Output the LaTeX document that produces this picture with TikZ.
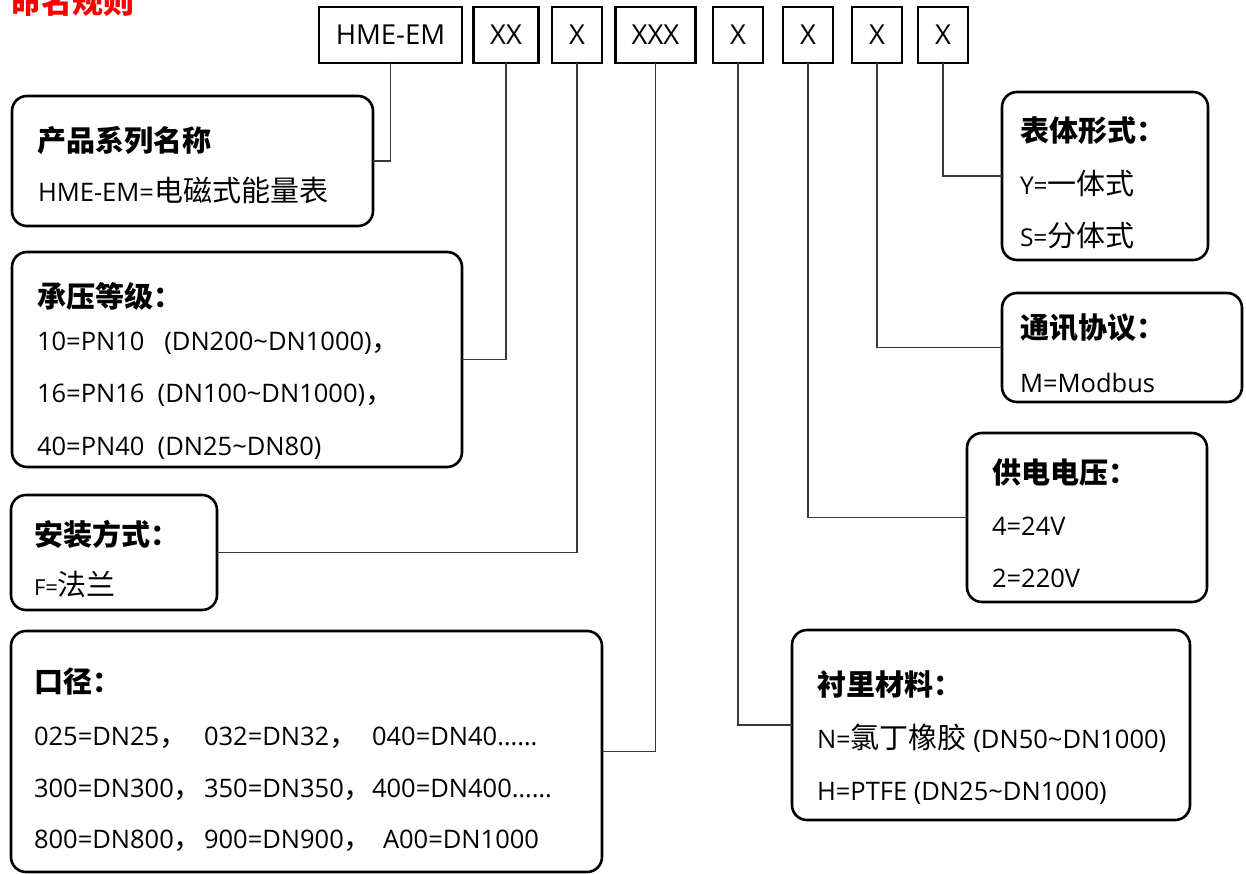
\documentclass[tikz,border=0pt]{standalone}
\usepackage{fontspec}
\setmainfont{Open Sans}
\newfontfamily\cjk{Noto Sans CJK SC}
\newcommand\zh[1]{{\cjk\fontsize{29}{34}\selectfont #1}}
\newcommand\zhb[1]{{\cjk\bfseries\fontsize{29}{34}\selectfont #1}}
\newcommand\sm[2]{{\fontsize{#1}{#1}\selectfont #2}}
\begin{document}
\begin{tikzpicture}[x=1pt,y=-1pt,
  rbox/.style={draw=black, line width=2.6pt, rounded corners=15pt, inner sep=0pt, outer sep=0pt, anchor=north west},
  tbox/.style={draw=black, line width=2.8pt, inner sep=0pt, outer sep=0pt, minimum height=56pt, font=\fontsize{27.5}{32}\selectfont},
  conn/.style={draw=black!78, line width=1.5pt},
  txt/.style={anchor=base west, inner sep=0pt, outer sep=0pt, font=\fontsize{25.5}{30}\selectfont}]
\useasboundingbox (0,0) rectangle (1246,874);

% title (partly cut off at the top edge, as in the reference)
\node[anchor=base west, inner sep=0pt, text={rgb,255:red,255;green,0;blue,0}, font=\cjk\bfseries\fontsize{31}{36}\selectfont] (title) at (10,13.5) {命名规则};

% code boxes
\node[tbox, minimum width=143pt] (t1) at (390.5,35) {HME-EM};
\node[tbox, minimum width=65pt] (t2) at (506,35) {XX};
\node[tbox, minimum width=50pt] (t3) at (577,35) {X};
\node[tbox, minimum width=80pt] (t4) at (655.5,35) {XXX};
\node[tbox, minimum width=50pt] (t5) at (738,35) {X};
\node[tbox, minimum width=50pt] (t6) at (808,35) {X};
\node[tbox, minimum width=50pt] (t7) at (877,35) {X};
\node[tbox, minimum width=50pt] (t8) at (943,35) {X};

% description boxes
\node[rbox, minimum width=361pt, minimum height=130pt] (b1) at (12,96) {};
\node[rbox, minimum width=450pt, minimum height=215pt] (b2) at (12,252) {};
\node[rbox, minimum width=206pt, minimum height=115pt] (b3) at (11,495) {};
\node[rbox, minimum width=591pt, minimum height=241pt] (b4) at (11,631) {};
\node[rbox, minimum width=206pt, minimum height=168pt] (b5) at (1002,92) {};
\node[rbox, minimum width=240pt, minimum height=109pt] (b6) at (1002,293) {};
\node[rbox, minimum width=240pt, minimum height=169pt] (b7) at (967,433) {};
\node[rbox, minimum width=398pt, minimum height=190pt] (b8) at (792,630) {};

% connectors
\draw[conn] (t1.south) |- (b1.east);
\draw[conn] (t2.south) |- (b2.east);
\draw[conn] (t3.south) |- (b3.east);
\draw[conn] (t4.south) |- (b4.east);
\draw[conn] (t5.south) |- (b8.west);
\draw[conn] (t6.south) |- (b7.west);
\draw[conn] (t7.south) |- (b6.west);
\draw[conn] (t8.south) |- (b5.west);

% texts: product series
\node[txt] (b1a) at (37,152) {\zhb{产品系列名称}};
\node[txt] (b1b) at (38,202) {HME-EM=\zh{电磁式能量表}};
% pressure
\node[txt] (b2a) at (37,307) {\zhb{承压等级：}};
\node[txt] (b2b) at (37,350) {10=PN10\ \ \ (DN200\string~DN1000)\zh{，}};
\node[txt] (b2c) at (37,402) {16=PN16\ \ (DN100\string~DN1000)\zh{，}};
\node[txt] (b2d) at (37,455) {40=PN40\ \ (DN25\string~DN80)};
% installation
\node[txt] (b3a) at (34,545) {\zhb{安装方式：}};
\node[txt] (b3b) at (34,595) {\sm{22}{F=}\zh{法兰}};
% diameter
\node[txt] (b4a) at (34,692) {\zhb{口径：}};
\node[txt] (b4b) at (34,745) {\makebox[170pt][l]{025=DN25\zh{，}}\makebox[168pt][l]{032=DN32\zh{，}}040=DN40……};
\node[txt] (b4c) at (34,797) {\makebox[170pt][l]{300=DN300\zh{，}}\makebox[168pt][l]{350=DN350\zh{，}}400=DN400……};
\node[txt] (b4d) at (34,848) {\makebox[170pt][l]{800=DN800\zh{，}}\makebox[179pt][l]{900=DN900\zh{，}}A00=DN1000};
% body form
\node[txt] (b5a) at (1020,142) {\zhb{表体形式：}};
\node[txt] (b5b) at (1020,195) {\sm{24.5}{Y=}\zh{一体式}};
\node[txt] (b5c) at (1020,247) {\sm{24.5}{S=}\zh{分体式}};
% communication
\node[txt] (b6a) at (1020,338) {\zhb{通讯协议：}};
\node[txt] (b6b) at (1020,392) {M=Modbus};
% power
\node[txt] (b7a) at (992,483) {\zhb{供电电压：}};
\node[txt] (b7b) at (992,535) {4=24V};
\node[txt] (b7c) at (992,587) {2=220V};
% lining
\node[txt] (b8a) at (817,695) {\zhb{衬里材料：}};
\node[txt] (b8b) at (817,748) {N=\zh{氯丁橡胶} (DN50\string~DN1000)};
\node[txt] (b8c) at (817,800) {H=PTFE (DN25\string~DN1000)};
\end{tikzpicture}
\end{document}
